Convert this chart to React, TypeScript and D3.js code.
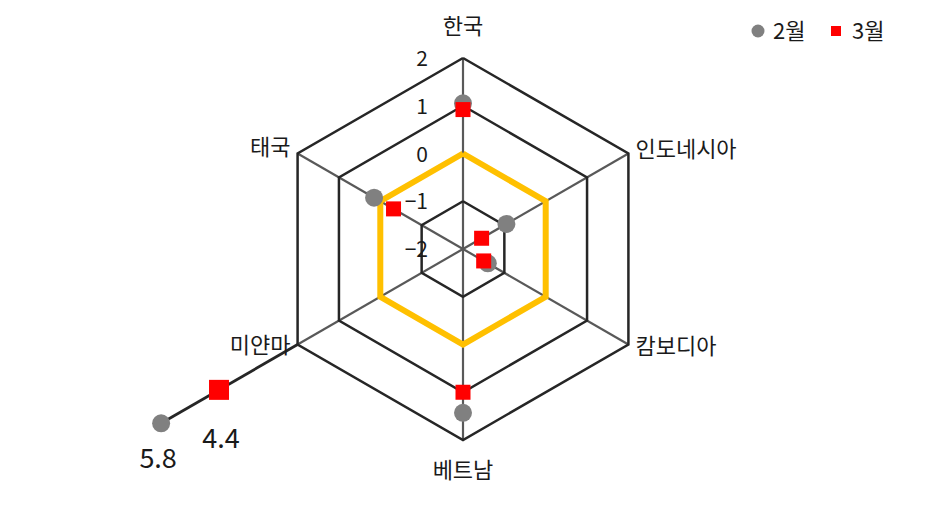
import * as d3 from 'd3';

const countries = ['한국', '인도네시아', '캄보디아', '베트남', '미얀마', '태국'];
const febValues = [1.05, -0.95, -1.4, 1.43, 5.8, 0.15];
const marValues = [0.92, -1.55, -1.5, 1.0, 4.4, -0.32];
const ringValues = [-1, 1, 2];
const tickValues = [2, 1, 0, -1, -2];
const seriesNames = ['2월', '3월'];

const width = 937;
const height = 507;
const cx = 463;
const cy = 249;
const R = 191;
const font = '"Noto Sans CJK KR", "Noto Sans", sans-serif';

export default function App() {
  const r = d3.scaleLinear().domain([-2, 2]).range([0, R]);
  // values above the scale max are drawn past an axis break of R/8
  const rad = (v: number) => (v > 2 ? r(v) - R / 8 : r(v));
  const angle = d3
    .scaleBand()
    .domain(countries)
    .range([0, 2 * Math.PI]);
  const pt = (c: string, v: number): [number, number] => {
    const a = angle(c)!;
    const d = rad(v);
    return [cx + d * Math.sin(a), cy - d * Math.cos(a)];
  };
  const ring = (v: number) =>
    d3.line()(countries.map((c) => pt(c, v)).concat([pt(countries[0], v)]))!;

  const labelPos = [
    { dx: 0, dy: -30, anchor: 'middle' },
    { dx: 7, dy: -2, anchor: 'start' },
    { dx: 7, dy: 4, anchor: 'start' },
    { dx: 0, dy: 32, anchor: 'middle' },
    { dx: -7, dy: 3, anchor: 'end' },
    { dx: -7, dy: -4, anchor: 'end' },
  ];

  const outlier = countries.indexOf('미얀마');
  const overflow = Math.max(febValues[outlier], marValues[outlier]);
  const [ox0, oy0] = pt(countries[outlier], 2);
  const [ox1, oy1] = pt(countries[outlier], overflow);
  const [fx, fy] = pt(countries[outlier], febValues[outlier]);
  const [mx, my] = pt(countries[outlier], marValues[outlier]);

  return (
    <svg
      width={width}
      height={height}
      style={{ position: 'absolute', left: 0, top: 0, background: '#fff' }}
      fontFamily={font}
    >
      {/* spokes */}
      {countries.map((c) => {
        const [x, y] = pt(c, 2);
        return <line key={c} x1={cx} y1={cy} x2={x} y2={y} stroke="#595959" strokeWidth={2.2} />;
      })}
      {/* extension for the off-scale value */}
      <line x1={ox0} y1={oy0} x2={ox1} y2={oy1} stroke="#262626" strokeWidth={2.8} />
      {ringValues.map((v) => (
        <path key={v} d={ring(v)} fill="none" stroke="#262626" strokeWidth={2.5} />
      ))}
      <path d={ring(0)} fill="none" stroke="#FFC000" strokeWidth={6} strokeLinejoin="miter" />

      {/* tick labels */}
      {tickValues.map((v) => (
        <text
          key={v}
          x={cx - 35}
          y={cy - r(v) + 8}
          textAnchor="end"
          fontSize={21}
          fill="#1a1a1a"
        >
          {v < 0 ? `−${-v}` : v}
        </text>
      ))}

      {/* category labels */}
      {countries.map((c, i) => {
        const [x, y] = pt(c, 2);
        const p = labelPos[i];
        return (
          <text
            key={c}
            x={x + p.dx}
            y={y + p.dy}
            textAnchor={p.anchor}
            dominantBaseline="middle"
            fontSize={22}
            fill="#1a1a1a"
          >
            {c}
          </text>
        );
      })}

      {/* 2월 points */}
      {countries.map((c, i) => {
        const [x, y] = pt(c, febValues[i]);
        return <circle key={c} cx={x} cy={y} r={9} fill="#808080" />;
      })}
      {/* 3월 points */}
      {countries.map((c, i) => {
        const [x, y] = pt(c, marValues[i]);
        const s = i === outlier ? 20 : 15;
        return <rect key={c} x={x - s / 2} y={y - s / 2} width={s} height={s} fill="#FF0000" />;
      })}

      {/* value labels for the off-scale points */}
      <text x={fx - 3} y={fy + 45} textAnchor="middle" fontSize={27} fill="#1a1a1a">
        {febValues[outlier]}
      </text>
      <text x={mx + 2} y={my + 58} textAnchor="middle" fontSize={27} fill="#1a1a1a">
        {marValues[outlier]}
      </text>

      {/* legend */}
      <g transform="translate(758,31)">
        <circle cx={0} cy={0} r={6.5} fill="#808080" />
        <text x={15} y={8} fontSize={22} fill="#1a1a1a">
          {seriesNames[0]}
        </text>
        <rect x={73} y={-5} width={10} height={10} fill="#FF0000" />
        <text x={94} y={8} fontSize={22} fill="#1a1a1a">
          {seriesNames[1]}
        </text>
      </g>
    </svg>
  );
}
